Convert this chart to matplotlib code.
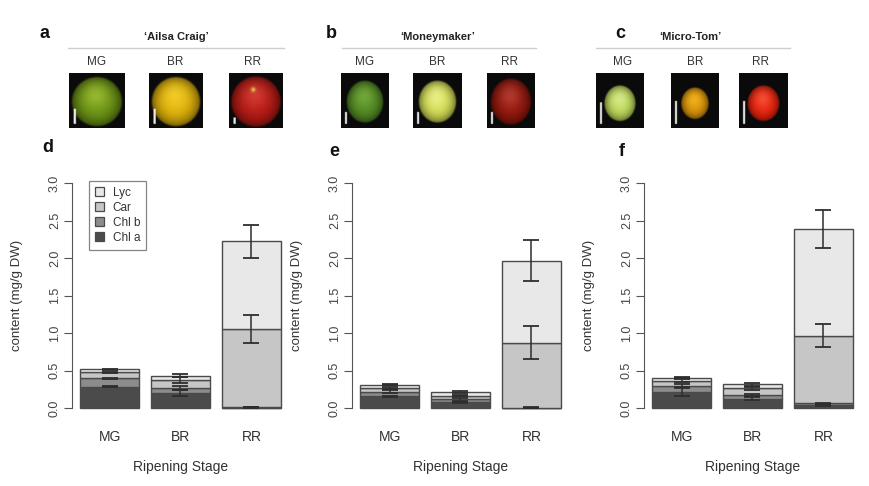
import numpy as np
import matplotlib
matplotlib.use("Agg")
import matplotlib.pyplot as plt
from matplotlib.lines import Line2D
from matplotlib.patches import Patch

plt.rcParams['font.family'] = ['Liberation Sans', 'DejaVu Sans']

# ---------------- data ----------------
stages = ["MG", "BR", "RR"]
cultivars = ["\u2018Ailsa Craig\u2019", "\u2018Moneymaker\u2019", "\u2018Micro-Tom\u2019"]
components = ["Chl a", "Chl b", "Car", "Lyc"]

# Ailsa Craig (panel d)
ac_chl_a = [0.29, 0.20, 0.010]
ac_chl_b = [0.11, 0.07, 0.005]
ac_car = [0.08, 0.11, 1.040]
ac_lyc = [0.04, 0.055, 1.170]
ac_err_chl_a = [0.01, 0.04, 0.005]
ac_err_chl_b = [0.01, 0.03, 0.003]
ac_err_car = [0.01, 0.04, 0.19]
ac_err_lyc = [0.01, 0.02, 0.22]

# Moneymaker (panel e)
mm_chl_a = [0.16, 0.08, 0.005]
mm_chl_b = [0.06, 0.04, 0.005]
mm_car = [0.05, 0.05, 0.865]
mm_lyc = [0.045, 0.05, 1.095]
mm_err_chl_a = [0.01, 0.01, 0.003]
mm_err_chl_b = [0.02, 0.02, 0.003]
mm_err_car = [0.01, 0.01, 0.22]
mm_err_lyc = [0.01, 0.01, 0.27]

# Micro-Tom (panel f)
mt_chl_a = [0.22, 0.13, 0.045]
mt_chl_b = [0.08, 0.05, 0.020]
mt_car = [0.07, 0.09, 0.905]
mt_lyc = [0.04, 0.05, 1.420]
mt_err_chl_a = [0.06, 0.02, 0.010]
mt_err_chl_b = [0.03, 0.01, 0.005]
mt_err_car = [0.02, 0.02, 0.155]
mt_err_lyc = [0.01, 0.02, 0.25]

yticks = [0.0, 0.5, 1.0, 1.5, 2.0, 2.5, 3.0]

panels = [
    ([ac_chl_a, ac_chl_b, ac_car, ac_lyc], [ac_err_chl_a, ac_err_chl_b, ac_err_car, ac_err_lyc]),
    ([mm_chl_a, mm_chl_b, mm_car, mm_lyc], [mm_err_chl_a, mm_err_chl_b, mm_err_car, mm_err_lyc]),
    ([mt_chl_a, mt_chl_b, mt_car, mt_lyc], [mt_err_chl_a, mt_err_chl_b, mt_err_car, mt_err_lyc]),
]

# ---------------- styles ----------------
fills = {"Chl a": "#4b4b4b", "Chl b": "#8c8c8c", "Car": "#c6c6c6", "Lyc": "#e8e8e8"}
edge = "#4a4a4a"
txt = "#333333"

W, H = 870, 486
fig = plt.figure(figsize=(W / 100, H / 100), dpi=100)


def px_rect(x0, y0, x1, y1):
    return [x0 / W, 1 - y1 / H, (x1 - x0) / W, (y1 - y0) / H]


# ---------------- photo row ----------------
def tomato_img(color, hl, r, cx=0.5, cy=0.52, bar_len=0.3, spot=None, n=120):
    yy, xx = np.mgrid[0:n, 0:n] / (n - 1)
    img = np.zeros((n, n, 3)) + 0.04
    d = np.sqrt((xx - cx) ** 2 + (yy - cy) ** 2) / r
    shade = np.clip(1.0 - 0.55 * d ** 3, 0, 1)
    hlw = np.exp(-(((xx - (cx - 0.05 * r)) ** 2 + (yy - (cy - 0.25 * r)) ** 2) / (2 * (0.35 * r) ** 2)))
    base = np.array(color)[None, None, :] * shade[..., None]
    base = base * (1 - 0.5 * hlw[..., None]) + np.array(hl)[None, None, :] * 0.5 * hlw[..., None]
    if spot is not None:
        sw = np.exp(-(((xx - spot[0]) ** 2 + (yy - spot[1]) ** 2) / (2 * 0.03 ** 2)))
        base = base * (1 - sw[..., None]) + np.array([0.85, 0.8, 0.3])[None, None, :] * sw[..., None]
    edge_soft = np.clip((1.0 - d) * 12, 0, 1)[..., None]
    img = img * (1 - edge_soft) + base * edge_soft
    # scale bar
    bx = (xx > 0.08) & (xx < 0.12) & (yy > 0.93 - bar_len) & (yy < 0.93)
    img[bx] = 0.92
    return np.clip(img, 0, 1)


photo_specs = [
    [((69, 125), (0.42, 0.58, 0.08), (0.75, 0.85, 0.3), 0.47, 0.28, None),
     ((149, 203), (0.88, 0.70, 0.04), (1.0, 0.88, 0.25), 0.47, 0.28, None),
     ((229, 283), (0.72, 0.10, 0.08), (0.9, 0.35, 0.3), 0.48, 0.12, (0.45, 0.3))],
    [((341, 389), (0.33, 0.55, 0.14), (0.55, 0.75, 0.3), 0.40, 0.22, None),
     ((413, 462), (0.84, 0.88, 0.33), (0.97, 0.98, 0.7), 0.40, 0.22, None),
     ((487, 535), (0.58, 0.09, 0.05), (0.8, 0.35, 0.3), 0.44, 0.22, None)],
    [((596, 644), (0.75, 0.86, 0.35), (0.92, 0.96, 0.7), 0.34, 0.4, None),
     ((671, 719), (0.86, 0.58, 0.04), (1.0, 0.8, 0.2), 0.30, 0.42, None),
     ((739, 788), (0.92, 0.14, 0.05), (1.0, 0.45, 0.35), 0.34, 0.42, None)],
]
title_lines = [(68, 284), (342, 536), (596, 790)]
title_cx = [176, 438, 690]
letter_top = [("a", 45), ("b", 331), ("c", 620)]
stage_cx = [[97, 175, 253], [365, 437, 510], [623, 695, 761]]

for p in range(3):
    fig.text(letter_top[p][1] / W, 1 - 33 / H, letter_top[p][0], fontsize=13, fontweight="bold",
             ha="center", va="center", color="#111111")
    fig.text(title_cx[p] / W, 1 - 37 / H, cultivars[p], fontsize=8, fontweight="bold",
             ha="center", va="center", color="#222222")
    x0, x1 = title_lines[p]
    fig.add_artist(Line2D([x0 / W, x1 / W], [1 - 48 / H, 1 - 48 / H], color="#cfcfcf", lw=1.0,
                          transform=fig.transFigure))
    for s in range(3):
        fig.text(stage_cx[p][s] / W, 1 - 62 / H, stages[s], fontsize=8.5, ha="center", va="center",
                 color=txt)
        (px0, px1), col, hl, r, bl, spot = photo_specs[p][s]
        pax = fig.add_axes(px_rect(px0, 73, px1, 128))
        cy = 0.55 if p == 2 else 0.52
        pax.imshow(tomato_img(col, hl, r, cy=cy, bar_len=bl, spot=spot), interpolation="bilinear",
                   aspect="auto", extent=(0, 1, 1, 0))
        pax.set_axis_off()

# ---------------- bar charts ----------------
ax_left = [72, 352, 644]
letters = [("d", 48, 148), ("e", 334, 152), ("f", 622, 152)]
xpos = np.array([0.7, 1.9, 3.1])

for p in range(3):
    ax = fig.add_axes(px_rect(ax_left[p], 174.3, ax_left[p] + 217, 417.3))
    vals, errs = panels[p]
    bottom = np.zeros(3)
    tops = []
    for comp, v in zip(components, vals):
        v = np.array(v)
        ax.bar(xpos, v, width=1.0, bottom=bottom, color=fills[comp], edgecolor=edge, linewidth=1.0,
               label=comp, zorder=2)
        bottom = bottom + v
        tops.append(bottom.copy())
    for top, e in zip(tops, errs):
        ax.errorbar(xpos, top, yerr=e, fmt="none", ecolor="#2e2e2e", elinewidth=1.1, capsize=6,
                    capthick=1.3, zorder=3)
    ax.set_xlim(0.064, 3.736)
    ax.set_ylim(-0.12, 3.12)
    for sp in ["top", "right", "bottom"]:
        ax.spines[sp].set_visible(False)
    ax.spines["left"].set_bounds(0, 3)
    ax.spines["left"].set_color("#555555")
    ax.set_yticks(yticks)
    ax.set_yticklabels([f"{t:.1f}" for t in yticks], rotation=90, va="center", fontsize=9, color="#444444")
    ax.tick_params(axis="y", length=6, width=0.8, color="#555555", pad=2)
    ax.set_xticks(xpos)
    ax.set_xticklabels(stages, fontsize=10, color=txt)
    ax.tick_params(axis="x", length=0, pad=9)
    ax.set_ylabel("content (mg/g DW)", fontsize=9.5, color=txt)
    ax.yaxis.set_label_coords(-0.253, 0.5)
    ax.set_xlabel("Ripening Stage", fontsize=10, color=txt)
    ax.xaxis.set_label_coords(0.5, -0.205)
    ax.xaxis.label.set_va("center")
    ax.yaxis.label.set_va("center")
    fig.text(letters[p][1] / W, 1 - letters[p][2] / H, letters[p][0], fontsize=13, fontweight="bold",
             ha="center", va="center", color="#111111")
    if p == 0:
        handles = [Patch(facecolor=fills[c], edgecolor=edge, linewidth=0.9) for c in components[::-1]]
        leg = ax.legend(handles, components[::-1], loc="upper left", bbox_to_anchor=(0.078, 0.972),
                        fontsize=8.5, frameon=True, fancybox=False, handlelength=0.8, handleheight=0.8,
                        handletextpad=0.7, borderpad=0.5, labelspacing=0.25, borderaxespad=0)
        leg.get_frame().set_edgecolor("#666666")
        leg.get_frame().set_linewidth(0.9)
        for t in leg.get_texts():
            t.set_color(txt)

fig.savefig("out.png", dpi=100)
